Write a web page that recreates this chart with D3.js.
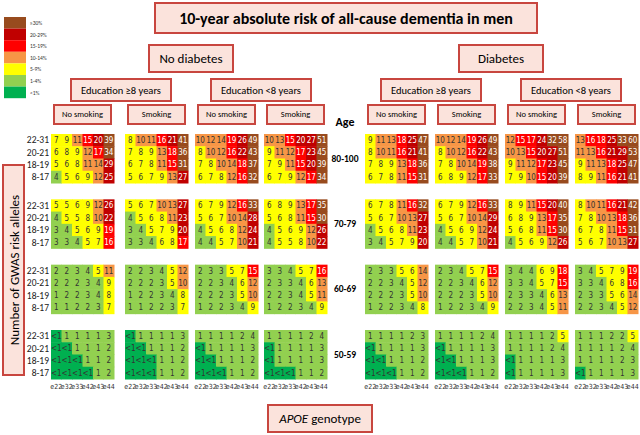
<!DOCTYPE html>
<html>
<head>
<meta charset="utf-8">
<script src="https://cdn.jsdelivr.net/npm/d3@7"></script>
<style>
  body { margin: 0; background: #fff; font-family: Calibri, "Liberation Sans", "DejaVu Sans", sans-serif; }
  .box { fill: #fbe3dc; stroke: #c8463f; stroke-width: 2; }
</style>
</head>
<body>
<svg id="chart"></svg>
<script>
document.addEventListener('DOMContentLoaded', () => {

    const width = 640, height = 435;
    const svg = d3.select("#chart").attr("width", width).attr("height", height);

    // --- Data: [panel][age][allele row][genotype], 0.5 means "<1" ---
    const L = 0.5;
    const genotypes = ["e22", "e32", "e33", "e42", "e43", "e44"];
    const alleles = ["22-31", "20-21", "18-19", "8-17"];
    const ages = ["80-100", "70-79", "60-69", "50-59"];

    const panels = [
      { x: 51, label: "No smoking", data: [
        [[7,9,11,15,20,39],[6,8,9,12,17,34],[5,6,8,11,14,29],[4,5,6,9,12,25]],
        [[5,5,6,9,12,26],[4,5,5,8,10,22],[3,4,5,6,9,19],[3,3,4,5,7,16]],
        [[2,2,3,4,5,11],[2,2,2,3,4,9],[1,2,2,3,4,8],[1,1,2,2,3,7]],
        [[L,1,1,1,1,3],[L,L,1,1,1,2],[L,L,L,1,1,2],[L,L,L,L,1,2]] ] },
      { x: 125, label: "Smoking", data: [
        [[8,10,11,16,21,41],[7,8,9,13,18,36],[6,7,8,11,15,31],[5,6,7,9,13,27]],
        [[5,6,7,10,13,27],[4,5,6,8,11,23],[3,4,5,7,9,20],[3,3,4,6,8,17]],
        [[2,2,3,4,5,12],[2,2,2,3,5,10],[1,2,2,3,4,8],[1,1,2,2,3,7]],
        [[L,1,1,1,1,3],[L,L,1,1,1,2],[L,L,L,1,1,2],[L,L,L,1,1,2]] ] },
      { x: 195, label: "No smoking", data: [
        [[10,12,14,19,26,49],[8,10,12,16,22,43],[7,8,10,14,18,37],[6,7,8,12,16,32]],
        [[6,7,9,12,16,33],[5,6,7,10,14,28],[4,5,6,8,12,24],[4,4,5,7,10,21]],
        [[2,3,3,5,7,15],[2,2,3,4,6,12],[2,2,2,3,5,10],[1,2,2,3,4,9]],
        [[1,1,1,1,2,4],[L,1,1,1,1,3],[L,L,1,1,1,2],[L,L,L,1,1,2]] ] },
      { x: 264, label: "Smoking", data: [
        [[10,13,15,20,27,51],[9,11,12,17,23,45],[7,9,11,15,20,39],[6,7,9,12,17,34]],
        [[6,8,9,13,17,35],[5,6,8,11,15,30],[4,5,6,9,12,26],[4,5,5,8,10,22]],
        [[3,3,4,5,7,16],[2,3,3,4,6,13],[2,2,3,4,5,11],[1,2,2,3,4,9]],
        [[1,1,1,1,2,4],[L,1,1,1,1,3],[L,1,1,1,1,3],[L,L,L,1,1,2]] ] },
      { x: 365, label: "No smoking", data: [
        [[9,11,13,18,25,47],[8,10,11,16,21,41],[7,8,9,13,18,36],[6,7,8,11,15,31]],
        [[6,7,8,11,16,32],[5,6,7,10,13,27],[4,5,6,8,11,23],[3,4,5,7,9,20]],
        [[2,3,3,5,6,14],[2,2,3,4,5,12],[2,2,2,3,5,10],[1,2,2,3,4,8]],
        [[1,1,1,1,2,3],[L,1,1,1,1,3],[L,L,1,1,1,2],[L,L,L,1,1,2]] ] },
      { x: 435, label: "Smoking", data: [
        [[10,12,14,19,26,49],[8,10,12,16,22,43],[7,8,10,14,19,38],[6,8,9,12,17,33]],
        [[6,7,9,12,16,33],[5,6,7,10,14,29],[4,5,6,9,12,24],[4,4,5,7,10,21]],
        [[2,3,4,5,7,15],[2,2,3,4,6,12],[2,2,2,3,5,10],[1,2,2,3,4,9]],
        [[1,1,1,1,2,4],[L,1,1,1,1,3],[L,L,1,1,1,3],[L,L,L,1,1,2]] ] },
      { x: 505, label: "No smoking", data: [
        [[12,15,17,24,32,58],[10,13,15,20,27,51],[9,11,12,17,23,45],[7,9,10,15,20,39]],
        [[8,9,11,15,20,40],[6,8,9,13,17,35],[5,6,8,11,15,30],[4,5,6,9,12,26]],
        [[3,4,4,6,9,18],[3,3,4,5,7,15],[2,3,3,4,6,13],[2,2,3,4,5,11]],
        [[1,1,1,1,2,5],[1,1,1,1,2,4],[L,1,1,1,1,3],[L,1,1,1,1,3]] ] },
      { x: 575, label: "Smoking", data: [
        [[13,16,18,25,33,60],[11,13,16,21,29,53],[9,11,13,18,25,47],[8,9,11,16,21,41]],
        [[8,10,11,16,21,42],[7,8,10,13,18,36],[6,7,8,11,15,31],[5,6,7,10,13,27]],
        [[3,4,5,7,9,19],[3,3,4,6,8,16],[2,3,3,5,6,14],[2,2,3,4,5,12]],
        [[1,1,1,2,2,5],[1,1,1,1,2,4],[1,1,1,1,2,3],[L,1,1,1,1,3]] ] }
    ];

    // --- Colour scale ---
    const legendItems = [
      { label: "≥30%", color: "#984b1e" },
      { label: "20-29%", color: "#c00000" },
      { label: "15-19%", color: "#ff0000" },
      { label: "10-14%", color: "#f79646" },
      { label: "5-9%", color: "#ffff00" },
      { label: "1-4%", color: "#92d050" },
      { label: "<1%", color: "#00b050" }
    ];
    const color = d3.scaleThreshold()
      .domain([1, 5, 10, 15, 20, 30])
      .range(legendItems.map(d => d.color).reverse());

    // --- Layout scales ---
    const panelW = 63;
    const ageY = d3.scaleBand().domain(ages).range([134, 379]).paddingInner(0.25);
    const xCell = d3.scaleBand().domain(genotypes).range([0, panelW]);
    const yCell = d3.scaleBand().domain(alleles).range([0, ageY.bandwidth()]);

    // --- Boxes helper ---
    function box(x, y, w, h, text, size, weight) {
      const g = svg.append("g");
      g.append("rect").attr("class", "box").attr("x", x).attr("y", y).attr("width", w).attr("height", h);
      g.append("text").attr("x", x + w / 2).attr("y", y + h / 2).attr("dy", "0.35em")
        .attr("text-anchor", "middle").attr("font-size", size).attr("font-weight", weight || "normal")
        .text(text);
      return g;
    }

    box(155, 3, 382, 30, "10-year absolute risk of all-cause dementia in men", 16, "bold");
    box(149, 45, 84, 27, "No diabetes", 13);
    box(459, 45, 84, 27, "Diabetes", 13);
    box(71, 79, 100, 22, "Education ≥8 years", 10.5);
    box(211, 79, 100, 22, "Education <8 years", 10.5);
    box(381, 79, 100, 22, "Education ≥8 years", 10.5);
    box(521, 79, 100, 22, "Education <8 years", 10.5);
    panels.forEach(p => box(p.x + 3, 105, 57, 19, p.label, 8.5));

    // --- Legend ---
    const legend = svg.append("g").attr("transform", "translate(4,17)");
    legend.selectAll("rect").data(legendItems).enter().append("rect")
      .attr("x", 0).attr("y", (d, i) => i * 11.6).attr("width", 22).attr("height", 11.6)
      .attr("fill", d => d.color);
    legend.selectAll("text").data(legendItems).enter().append("text")
      .attr("x", 26).attr("y", (d, i) => i * 11.6 + 6).attr("dy", "0.35em")
      .attr("font-size", 5.5).attr("fill", "#333").text(d => d.label);

    // --- Heatmap panels ---
    panels.forEach(p => {
      ages.forEach((age, ai) => {
        const g = svg.append("g").attr("transform", `translate(${p.x},${ageY(age)})`);
        const cells = [];
        p.data[ai].forEach((row, ri) => row.forEach((v, ci) =>
          cells.push({ v, a: alleles[ri], gt: genotypes[ci] })));
        g.selectAll("rect").data(cells).enter().append("rect")
          .attr("x", d => xCell(d.gt)).attr("y", d => yCell(d.a))
          .attr("width", xCell.bandwidth() + 0.5).attr("height", yCell.bandwidth() + 0.5)
          .attr("fill", d => color(d.v));
        g.selectAll("text").data(cells).enter().append("text")
          .attr("x", d => xCell(d.gt) + xCell.bandwidth() / 2)
          .attr("y", d => yCell(d.a) + yCell.bandwidth() / 2).attr("dy", "0.35em")
          .attr("text-anchor", "middle").attr("font-size", 8)
          .attr("font-family", "'Liberation Sans Narrow', 'DejaVu Sans Condensed', sans-serif")
          .attr("fill", d => d.v >= 15 ? "#fff" : "#333")
          .text(d => d.v < 1 ? "<1" : d.v);
      });
    });

    // --- Row labels (allele counts) ---
    ages.forEach(age => {
      svg.append("g").selectAll("text").data(alleles).enter().append("text")
        .attr("x", 49).attr("y", d => ageY(age) + yCell(d) + yCell.bandwidth() / 2).attr("dy", "0.35em")
        .attr("text-anchor", "end").attr("font-size", 9.5).attr("fill", "#222").text(d => d);
      svg.append("text").attr("x", 345).attr("y", ageY(age) + ageY.bandwidth() / 2).attr("dy", "0.35em")
        .attr("text-anchor", "middle").attr("font-size", 9.5).attr("font-weight", "bold").text(age);
    });
    svg.append("text").attr("x", 345).attr("y", 126).attr("text-anchor", "middle")
      .attr("font-size", 12).attr("font-weight", "bold").text("Age");

    // --- Genotype axis under bottom panels ---
    panels.forEach(p => {
      const axis = svg.append("g")
        .attr("transform", `translate(${p.x},${ageY("50-59") + ageY.bandwidth()})`)
        .call(d3.axisBottom(xCell).tickSize(0).tickPadding(5));
      axis.select(".domain").remove();
      axis.selectAll("text").attr("font-size", 7).attr("fill", "#333")
        .attr("font-family", "'Liberation Sans Narrow', 'DejaVu Sans Condensed', sans-serif");
    });

    // --- Axis title boxes ---
    const yl = svg.append("g");
    yl.append("rect").attr("class", "box").attr("x", 3).attr("y", 165).attr("width", 21).attr("height", 210);
    yl.append("text").attr("transform", "translate(14,270) rotate(-90)").attr("dy", "0.35em")
      .attr("text-anchor", "middle").attr("font-size", 13).text("Number of GWAS risk alleles");

    const xl = box(268, 405, 104, 27, "", 13);
    xl.select("text").html('<tspan font-style="italic">APOE</tspan> genotype');
});
</script>
</body>
</html>
